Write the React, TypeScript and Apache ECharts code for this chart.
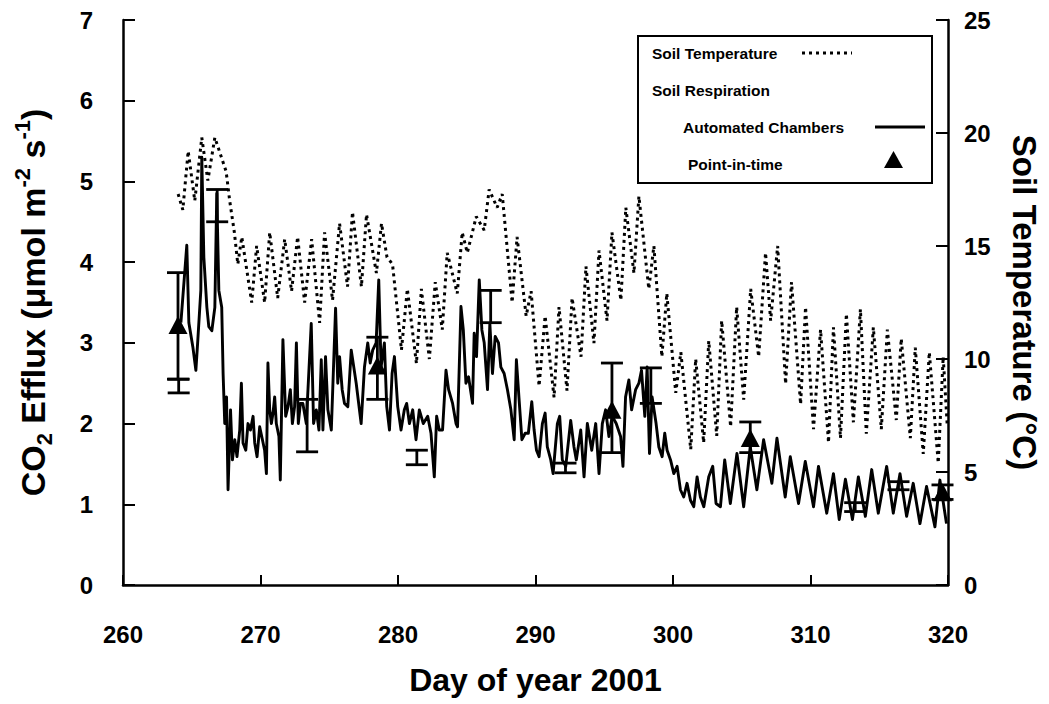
import React, { useEffect, useRef } from "react";
import * as echarts from "echarts";

const FONT = "'Liberation Sans', Arial, Helvetica, sans-serif";

// Axis ranges / ticks
const xMin = 260;
const xMax = 320;
const xStep = 10;
const effluxMax = 7;
const effluxStep = 1;
const tempMax = 25;
const tempStep = 5;

// Soil temperature (°C): [day of year, value] read at diurnal peaks/troughs
const soilTemp: [number, number][] = [
  [264.01, 17.3], [264.35, 16.6], [264.74, 19.2], [265.22, 17.0], [265.73, 19.8], [266.17, 17.9],
  [266.68, 19.8], [267.5, 18.3], [267.76, 17.0], [268.1, 15.6], [268.35, 14.2], [268.64, 15.4],
  [269.36, 12.5], [269.72, 15.0], [270.3, 12.5], [270.67, 15.6], [271.25, 12.7], [271.76, 15.3],
  [272.26, 13.0], [272.7, 15.4], [273.21, 12.5], [273.72, 15.3], [274.3, 11.6], [274.66, 15.6],
  [275.24, 12.6], [275.75, 16.0], [276.33, 13.2], [276.69, 16.5], [277.34, 13.2], [277.71, 16.4],
  [278.43, 13.8], [278.8, 16.0], [279.2, 14.5], [279.6, 14.2], [280.1, 11.3], [280.25, 10.4],
  [280.68, 13.1], [281.34, 9.8], [281.7, 13.1], [282.28, 10.0], [282.71, 13.4], [283.22, 11.3],
  [283.58, 14.7], [284.31, 12.9], [284.67, 15.6], [285.04, 14.7], [285.69, 16.3], [286.27, 15.7],
  [286.63, 17.5], [287.21, 16.7], [287.58, 17.3], [288.3, 12.5], [288.66, 15.4], [289.32, 11.9],
  [289.68, 13.0], [290.26, 8.8], [290.7, 11.9], [291.35, 8.3], [291.71, 12.3], [292.29, 8.6],
  [292.66, 12.7], [293.31, 10.1], [293.67, 14.1], [294.25, 10.7], [294.62, 14.8], [295.2, 11.7],
  [295.56, 15.6], [296.21, 12.6], [296.57, 16.7], [297.16, 13.8], [297.52, 17.2], [298.24, 13.1],
  [298.61, 15.0], [299.19, 10.1], [299.55, 12.9], [300.2, 8.5], [300.57, 10.3], [301.29, 6.0],
  [301.65, 10.0], [302.23, 6.3], [302.6, 10.8], [303.18, 6.6], [303.54, 11.7], [304.19, 7.0],
  [304.63, 12.3], [305.14, 8.2], [305.65, 13.1], [306.23, 10.1], [306.73, 14.7], [307.1, 11.7],
  [307.61, 15.0], [308.19, 8.9], [308.62, 13.4], [309.28, 8.0], [309.64, 12.3], [310.22, 6.9],
  [310.73, 11.3], [311.31, 6.3], [311.67, 11.4], [312.18, 6.5], [312.61, 12.0], [313.12, 7.2],
  [313.63, 12.2], [314.06, 6.7], [314.57, 11.4], [315.15, 6.9], [315.59, 11.3], [316.24, 7.3],
  [316.6, 10.9], [317.26, 6.5], [317.62, 10.5], [318.2, 5.8], [318.64, 10.3], [319.29, 5.4],
  [319.65, 10.1], [319.95, 7.0],
];

// Automated chambers CO2 efflux (µmol m-2 s-1): [day of year, value]
const automated: [number, number][] = [
  [264.21, 3.25], [264.64, 4.21], [264.79, 3.25], [265.08, 2.95], [265.3, 2.66], [265.44, 3.03],
  [265.66, 3.65], [265.73, 5.3], [265.88, 4.06], [266.1, 3.44], [266.24, 3.2], [266.46, 3.15],
  [266.68, 3.44], [266.82, 4.85], [266.97, 3.65], [267.18, 3.44], [267.28, 2.62], [267.4, 2.0],
  [267.53, 2.33], [267.64, 1.18], [267.82, 2.17], [267.96, 1.55], [268.13, 1.8], [268.29, 1.59],
  [268.49, 1.92], [268.61, 2.5], [268.73, 1.76], [268.93, 1.67], [269.09, 2.0], [269.27, 1.92],
  [269.46, 2.09], [269.58, 1.76], [269.75, 1.59], [269.94, 1.96], [270.14, 1.8], [270.3, 1.67],
  [270.43, 1.38], [270.54, 2.75], [270.67, 2.17], [270.79, 2.0], [270.91, 2.13], [271.03, 2.33],
  [271.15, 2.0], [271.34, 1.84], [271.44, 1.3], [271.63, 3.04], [271.83, 2.09], [272.0, 2.21],
  [272.17, 2.42], [272.32, 2.0], [272.48, 2.21], [272.61, 3.0], [272.75, 2.0], [272.9, 2.25],
  [273.08, 2.25], [273.33, 2.0], [273.69, 3.24], [273.86, 2.0], [274.06, 2.17], [274.25, 1.92],
  [274.42, 2.79], [274.54, 1.92], [274.73, 2.83], [274.9, 2.17], [275.15, 1.92], [275.46, 3.43],
  [275.62, 2.5], [275.75, 2.83], [275.94, 2.42], [276.11, 2.25], [276.35, 2.21], [276.6, 2.91],
  [276.96, 2.5], [277.32, 2.0], [277.56, 2.7], [277.8, 3.0], [277.98, 2.75], [278.16, 2.91],
  [278.41, 3.0], [278.6, 3.78], [278.77, 2.7], [279.01, 3.0], [279.18, 2.21], [279.38, 1.92],
  [279.57, 2.62], [279.74, 2.83], [279.98, 2.21], [280.22, 1.92], [280.46, 2.17], [280.63, 2.25],
  [280.83, 2.0], [281.07, 2.17], [281.31, 1.8], [281.55, 2.17], [281.84, 2.0], [282.16, 2.09],
  [282.4, 1.88], [282.64, 1.34], [282.81, 2.09], [283.0, 1.92], [283.24, 1.92], [283.49, 2.66],
  [283.68, 2.42], [283.97, 2.25], [284.22, 2.0], [284.33, 1.96], [284.58, 3.45], [284.75, 3.16],
  [284.94, 2.5], [285.13, 2.58], [285.42, 2.25], [285.54, 3.12], [285.71, 2.83], [285.91, 3.78],
  [286.1, 3.16], [286.27, 3.0], [286.51, 2.42], [286.68, 3.24], [286.87, 2.62], [287.07, 3.08],
  [287.31, 3.0], [287.48, 2.7], [287.72, 2.62], [287.96, 2.42], [288.21, 2.17], [288.45, 1.8],
  [288.61, 2.79], [288.81, 2.29], [289.01, 1.8], [289.25, 1.88], [289.48, 1.88], [289.73, 2.27],
  [289.9, 1.92], [290.07, 1.67], [290.26, 1.59], [290.5, 2.0], [290.7, 2.13], [290.86, 1.71],
  [291.11, 1.55], [291.28, 1.38], [291.59, 2.0], [291.76, 2.09], [291.95, 1.55], [292.2, 1.47],
  [292.56, 2.04], [292.8, 1.71], [292.97, 1.55], [293.29, 1.92], [293.53, 1.34], [293.77, 2.0],
  [294.09, 1.67], [294.38, 2.0], [294.62, 1.38], [294.86, 2.0], [295.1, 2.17], [295.34, 1.84],
  [295.58, 2.09], [295.87, 2.0], [296.19, 1.84], [296.36, 1.47], [296.55, 2.33], [296.79, 2.54],
  [296.99, 2.17], [297.28, 2.42], [297.52, 2.5], [297.71, 2.66], [297.95, 2.09], [298.12, 2.7],
  [298.29, 1.63], [298.48, 2.33], [298.77, 2.0], [298.97, 1.71], [299.21, 1.59], [299.4, 1.88],
  [299.57, 1.67], [299.82, 1.55], [300.06, 1.38], [300.3, 1.47], [300.54, 1.18], [300.78, 1.09],
  [301.02, 1.26], [301.27, 1.05], [301.51, 0.97], [301.75, 1.34], [301.99, 1.09], [302.24, 0.97],
  [302.6, 1.34], [302.89, 1.47], [303.13, 1.01], [303.45, 0.97], [303.76, 1.55], [304.17, 1.01],
  [304.65, 1.63], [305.14, 0.97], [305.62, 1.71], [306.1, 1.18], [306.59, 1.8], [307.19, 1.26],
  [307.56, 1.82], [308.16, 1.09], [308.53, 1.59], [309.13, 1.01], [309.62, 1.53], [310.22, 0.97],
  [310.58, 1.47], [311.18, 0.89], [311.67, 1.38], [312.09, 0.81], [312.54, 1.31], [313.05, 0.81],
  [313.48, 1.34], [313.99, 0.85], [314.45, 1.43], [314.93, 0.89], [315.54, 1.47], [316.02, 0.89],
  [316.51, 1.38], [316.99, 0.85], [317.47, 1.26], [317.96, 0.76], [318.44, 1.22], [319.05, 0.72],
  [319.41, 1.3], [319.89, 0.76],
];

// Point-in-time measurements: error bars [day, low, high] and means [day, value]
const pointErrorBars: [number, number, number][] = [
  [264.0, 2.55, 3.87], [264.05, 2.38, 2.55], [266.85, 4.5, 4.9], [273.39, 1.65, 2.3],
  [278.5, 2.3, 3.07], [281.37, 1.49, 1.67], [286.74, 3.25, 3.65], [292.18, 1.39, 1.51],
  [295.56, 1.64, 2.75], [298.39, 2.25, 2.69], [305.62, 1.64, 2.02], [313.25, 0.91, 1.02],
  [316.4, 1.18, 1.28], [319.6, 1.06, 1.24],
];
const pointMeans: [number, number][] = [
  [264.0, 3.22], [278.5, 2.72], [295.56, 2.17], [305.62, 1.82], [319.6, 1.15],
];

const legendLabels = ["Soil Temperature", "Soil Respiration", "Automated Chambers", "Point-in-time"];

export default function App() {
  const ref = useRef<HTMLDivElement>(null);

  useEffect(() => {
    if (!ref.current) return;
    const chart = echarts.init(ref.current, null, { renderer: "svg" });
    const black = "#000";
    const labelStyle = { color: black, fontFamily: FONT, fontWeight: "bold" as const, fontSize: 24 };

    const txt = (text: string, x: number, y: number) => ({
      type: "text",
      x,
      y,
      style: {
        text,
        fill: black,
        font: `bold 15.5px ${FONT}`,
        textVerticalAlign: "middle",
        verticalAlign: "middle",
        textAlign: "left",
        align: "left",
      },
      z: 101,
    });

    const option: any = {
      animation: false,
      backgroundColor: "#fff",
      grid: { left: 123, right: 99, top: 20, bottom: 119, containLabel: false },
      xAxis: {
        type: "value",
        min: xMin,
        max: xMax,
        interval: xStep,
        name: "Day of year 2001",
        nameLocation: "middle",
        nameGap: 79,
        nameTextStyle: { color: black, fontFamily: FONT, fontWeight: "bold", fontSize: 32 },
        axisLine: { show: true, onZero: false, lineStyle: { color: black, width: 2.5 } },
        axisTick: { show: true, inside: true, length: 10, lineStyle: { color: black, width: 2 } },
        axisLabel: { ...labelStyle, margin: 37 },
        splitLine: { show: false },
      },
      yAxis: [
        {
          type: "value",
          position: "left",
          min: 0,
          max: effluxMax,
          interval: effluxStep,
          name: "{b|CO}{sub|2}{b| Efflux (μmol m}{sup|-2}{b| s}{sup|-1}{b|)}",
          nameLocation: "middle",
          nameRotate: 90,
          nameGap: 68,
          nameTextStyle: {
            color: black,
            fontFamily: FONT,
            fontWeight: "bold",
            fontSize: 34,
            rich: {
              b: { color: black, fontFamily: FONT, fontWeight: "bold", fontSize: 34, lineHeight: 44, verticalAlign: "middle" },
              sub: { color: black, fontFamily: FONT, fontWeight: "bold", fontSize: 22, lineHeight: 22, verticalAlign: "bottom" },
              sup: { color: black, fontFamily: FONT, fontWeight: "bold", fontSize: 22, lineHeight: 22, verticalAlign: "top" },
            },
          },
          axisLine: { show: true, onZero: false, lineStyle: { color: black, width: 2.5 } },
          axisTick: { show: true, inside: true, length: 12, lineStyle: { color: black, width: 2 } },
          axisLabel: { ...labelStyle, margin: 30 },
          splitLine: { show: false },
        },
        {
          type: "value",
          position: "right",
          min: 0,
          max: tempMax,
          interval: tempStep,
          name: "Soil Temperature (°C)",
          nameLocation: "middle",
          nameRotate: -90,
          nameGap: 60,
          nameTextStyle: { color: black, fontFamily: FONT, fontWeight: "bold", fontSize: 33 },
          axisLine: { show: true, onZero: false, lineStyle: { color: black, width: 2.5 } },
          axisTick: { show: true, inside: true, length: 12, lineStyle: { color: black, width: 2 } },
          axisLabel: { ...labelStyle, margin: 16 },
          splitLine: { show: false },
        },
      ],
      series: [
        {
          name: "Soil Temperature",
          type: "line",
          yAxisIndex: 1,
          data: soilTemp,
          showSymbol: false,
          symbol: "none",
          lineStyle: { color: black, width: 3, type: [3, 4] },
          z: 2,
        },
        {
          name: "Automated Chambers",
          type: "line",
          yAxisIndex: 0,
          data: automated,
          showSymbol: false,
          symbol: "none",
          lineStyle: { color: black, width: 2.9, join: "round" },
          z: 3,
        },
        {
          name: "Point-in-time error",
          type: "custom",
          yAxisIndex: 0,
          data: pointErrorBars,
          encode: { x: 0, y: [1, 2] },
          renderItem: (_params: any, api: any) => {
            const x = api.value(0);
            const lo = api.coord([x, api.value(1)]);
            const hi = api.coord([x, api.value(2)]);
            const hw = 11;
            const style = { stroke: black, lineWidth: 2.8 };
            return {
              type: "group",
              children: [
                { type: "line", shape: { x1: lo[0], y1: lo[1], x2: hi[0], y2: hi[1] }, style },
                { type: "line", shape: { x1: lo[0] - hw, y1: lo[1], x2: lo[0] + hw, y2: lo[1] }, style },
                { type: "line", shape: { x1: hi[0] - hw, y1: hi[1], x2: hi[0] + hw, y2: hi[1] }, style },
              ],
            };
          },
          z: 4,
        },
        {
          name: "Point-in-time",
          type: "scatter",
          yAxisIndex: 0,
          data: pointMeans,
          symbol: "triangle",
          symbolSize: [19, 18],
          itemStyle: { color: black, opacity: 1 },
          z: 5,
        },
      ],
      graphic: [
        {
          type: "rect",
          shape: { x: 638, y: 36, width: 294, height: 147 },
          style: { fill: "#fff", stroke: black, lineWidth: 2 },
          z: 100,
        },
        txt(legendLabels[0], 652, 53),
        {
          type: "line",
          shape: { x1: 802, y1: 53, x2: 852, y2: 53 },
          style: { stroke: black, lineWidth: 3, lineDash: [3, 4] },
          z: 101,
        },
        txt(legendLabels[1], 652, 90),
        txt(legendLabels[2], 683, 127),
        {
          type: "line",
          shape: { x1: 875, y1: 127, x2: 925, y2: 127 },
          style: { stroke: black, lineWidth: 2.8 },
          z: 101,
        },
        txt(legendLabels[3], 688, 164),
        {
          type: "polygon",
          shape: { points: [[884, 168], [903, 168], [893.5, 151]] },
          style: { fill: black },
          z: 101,
        },
      ],
    };

    chart.setOption(option);
    return () => chart.dispose();
  }, []);

  return (
    <div
      ref={ref}
      style={{ position: "fixed", left: 0, top: 0, width: 1049, height: 704, background: "#fff" }}
    />
  );
}
